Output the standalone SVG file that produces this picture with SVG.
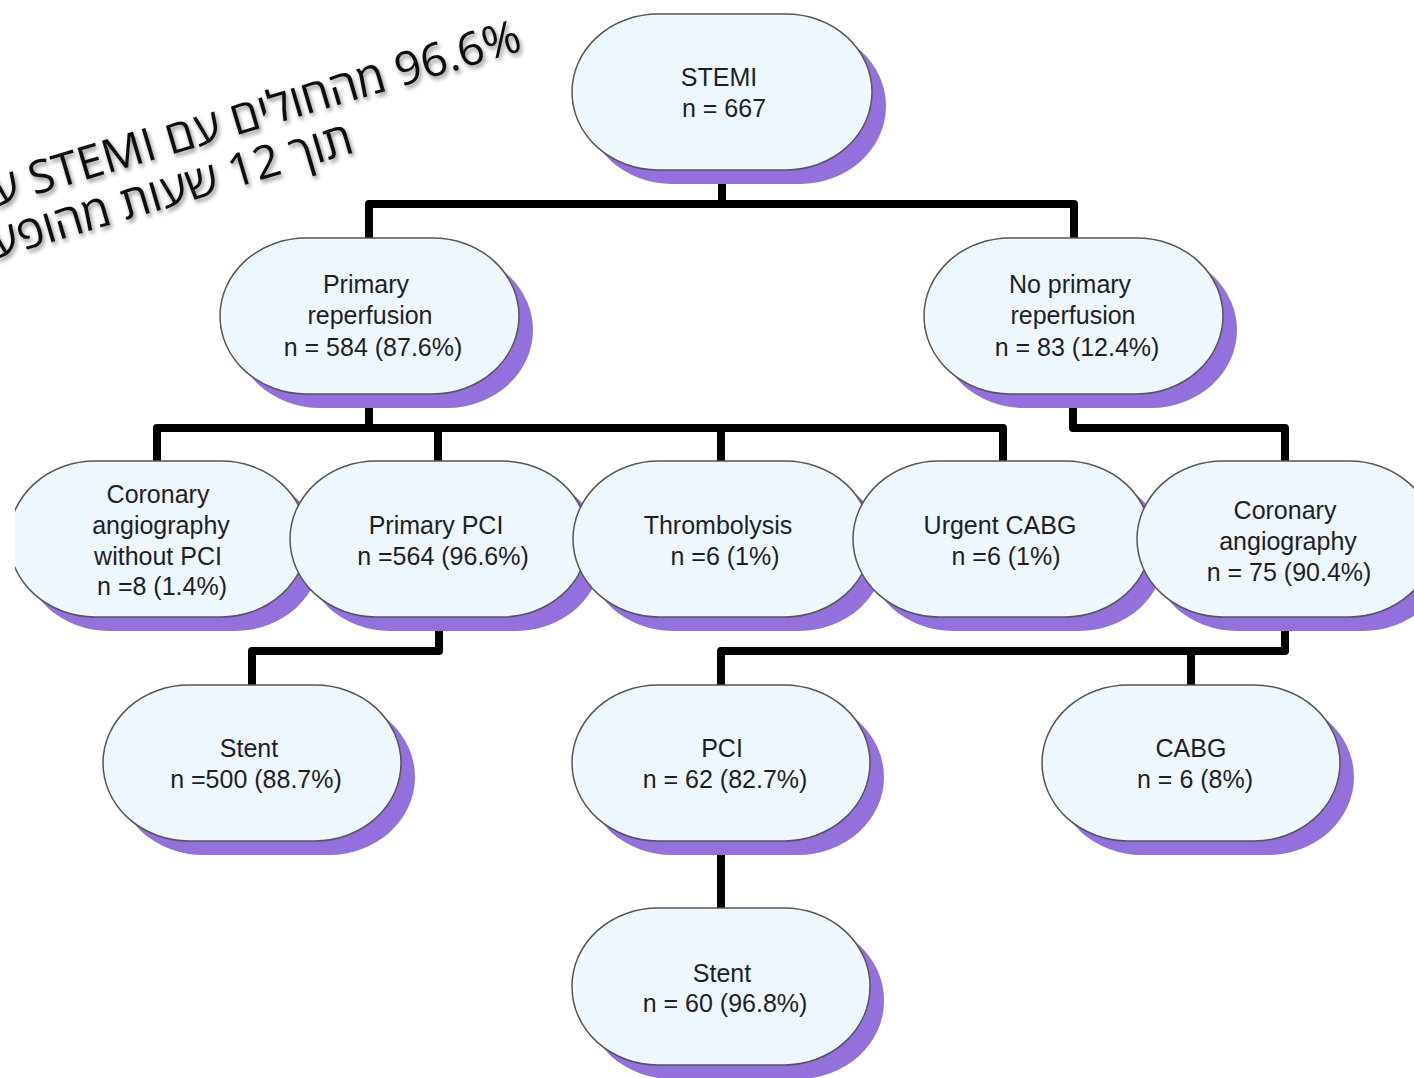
<svg xmlns="http://www.w3.org/2000/svg" width="1414" height="1078" viewBox="0 0 1414 1078">
<defs>
<style>
.sh{fill:#9370DB}
.nd{fill:#EEF6FE;stroke:#555;stroke-width:1.5}
.t{font-family:"Liberation Sans",Arial,sans-serif;font-size:25px;fill:#1e1e28;text-anchor:middle}
.cn{fill:none;stroke:#000;stroke-width:8;stroke-linejoin:round}
.heb{font-family:"Open Sans","DejaVu Sans",sans-serif;font-size:46px;fill:#111}
</style>
<filter id="ds" x="-10%" y="-30%" width="120%" height="160%">
<feDropShadow dx="2" dy="3" stdDeviation="2" flood-color="#000" flood-opacity="0.45"/>
</filter>
<clipPath id="clipL"><rect x="15" y="0" width="1414" height="1078"/></clipPath>
</defs>
<rect width="1414" height="1078" fill="#fff"/>

<g id="connectors">
<path class="cn" d="M722,170 V204"/>
<path class="cn" d="M369,238 V204 H1074 V238"/>
<path class="cn" d="M369,393 V428"/>
<path class="cn" d="M157,462 V428 H1003 V462"/>
<path class="cn" d="M438,428 V462"/>
<path class="cn" d="M721,428 V462"/>
<path class="cn" d="M1073,393 V428 H1285 V462"/>
<path class="cn" d="M439,617 V651 H252 V685"/>
<path class="cn" d="M1285,617 V651 H721 V685"/>
<path class="cn" d="M1191,651 V685"/>
<path class="cn" d="M721,841 V908"/>
</g>

<g id="title" filter="url(#ds)">
<text class="heb" direction="rtl" text-anchor="start" transform="translate(524,50) rotate(-16.5)">96.6% מהחולים עם STEMI עברו</text>
<text class="heb" direction="rtl" text-anchor="start" transform="translate(524,50) rotate(-16.5) translate(-190,50)">תוך 12 שעות מהופעת</text>
</g>

<g id="n-stemi">
<rect class="sh" x="586" y="28" width="300" height="156" rx="86" ry="78"/>
<rect class="nd" x="572" y="14" width="300" height="156" rx="86" ry="78"/>
<text class="t" x="719" y="86">STEMI</text>
<text class="t" x="724" y="117">n = 667</text>
</g>

<g id="n-primary-reperfusion">
<rect class="sh" x="234" y="252" width="299" height="156" rx="86" ry="78"/>
<rect class="nd" x="220" y="238" width="299" height="156" rx="86" ry="78"/>
<text class="t" x="366" y="293">Primary</text>
<text class="t" x="370" y="324">reperfusion</text>
<text class="t" x="373" y="356">n = 584 (87.6%)</text>
</g>

<g id="n-no-primary-reperfusion">
<rect class="sh" x="938" y="252" width="299" height="156" rx="86" ry="78"/>
<rect class="nd" x="924" y="238" width="299" height="156" rx="86" ry="78"/>
<text class="t" x="1070" y="293">No primary</text>
<text class="t" x="1073" y="324">reperfusion</text>
<text class="t" x="1077" y="356">n = 83 (12.4%)</text>
</g>

<g id="n-coronary-without-pci" clip-path="url(#clipL)">
<rect class="sh" x="23" y="475" width="298" height="156" rx="86" ry="78"/>
<rect class="nd" x="9" y="461" width="298" height="156" rx="86" ry="78"/>
<text class="t" x="158" y="503">Coronary</text>
<text class="t" x="161" y="534">angiography</text>
<text class="t" x="158" y="565">without PCI</text>
<text class="t" x="162" y="595">n =8 (1.4%)</text>
</g>

<g id="n-primary-pci">
<rect class="sh" x="304" y="475" width="298" height="156" rx="86" ry="78"/>
<rect class="nd" x="290" y="461" width="298" height="156" rx="86" ry="78"/>
<text class="t" x="436" y="534">Primary PCI</text>
<text class="t" x="443" y="565">n =564 (96.6%)</text>
</g>

<g id="n-thrombolysis">
<rect class="sh" x="587" y="475" width="298" height="156" rx="86" ry="78"/>
<rect class="nd" x="573" y="461" width="298" height="156" rx="86" ry="78"/>
<text class="t" x="718" y="534">Thrombolysis</text>
<text class="t" x="725" y="565">n =6 (1%)</text>
</g>

<g id="n-urgent-cabg">
<rect class="sh" x="867" y="475" width="298" height="156" rx="86" ry="78"/>
<rect class="nd" x="853" y="461" width="298" height="156" rx="86" ry="78"/>
<text class="t" x="1000" y="534">Urgent CABG</text>
<text class="t" x="1006" y="565">n =6 (1%)</text>
</g>

<g id="n-coronary-angiography">
<rect class="sh" x="1151" y="475" width="298" height="156" rx="86" ry="78"/>
<rect class="nd" x="1137" y="461" width="298" height="156" rx="86" ry="78"/>
<text class="t" x="1285" y="519">Coronary</text>
<text class="t" x="1288" y="550">angiography</text>
<text class="t" x="1289" y="581">n = 75 (90.4%)</text>
</g>

<g id="n-stent-1">
<rect class="sh" x="117" y="699" width="298" height="156" rx="86" ry="78"/>
<rect class="nd" x="103" y="685" width="298" height="156" rx="86" ry="78"/>
<text class="t" x="249" y="757">Stent</text>
<text class="t" x="256" y="788">n =500 (88.7%)</text>
</g>

<g id="n-pci">
<rect class="sh" x="586" y="699" width="298" height="156" rx="86" ry="78"/>
<rect class="nd" x="572" y="685" width="298" height="156" rx="86" ry="78"/>
<text class="t" x="722" y="757">PCI</text>
<text class="t" x="725" y="788">n = 62 (82.7%)</text>
</g>

<g id="n-cabg">
<rect class="sh" x="1056" y="699" width="298" height="156" rx="86" ry="78"/>
<rect class="nd" x="1042" y="685" width="298" height="156" rx="86" ry="78"/>
<text class="t" x="1191" y="757">CABG</text>
<text class="t" x="1195" y="788">n = 6 (8%)</text>
</g>

<g id="n-stent-2">
<rect class="sh" x="586" y="922" width="298" height="157" rx="86" ry="78"/>
<rect class="nd" x="572" y="908" width="298" height="157" rx="86" ry="78"/>
<text class="t" x="722" y="982">Stent</text>
<text class="t" x="725" y="1012">n = 60 (96.8%)</text>
</g>
</svg>
